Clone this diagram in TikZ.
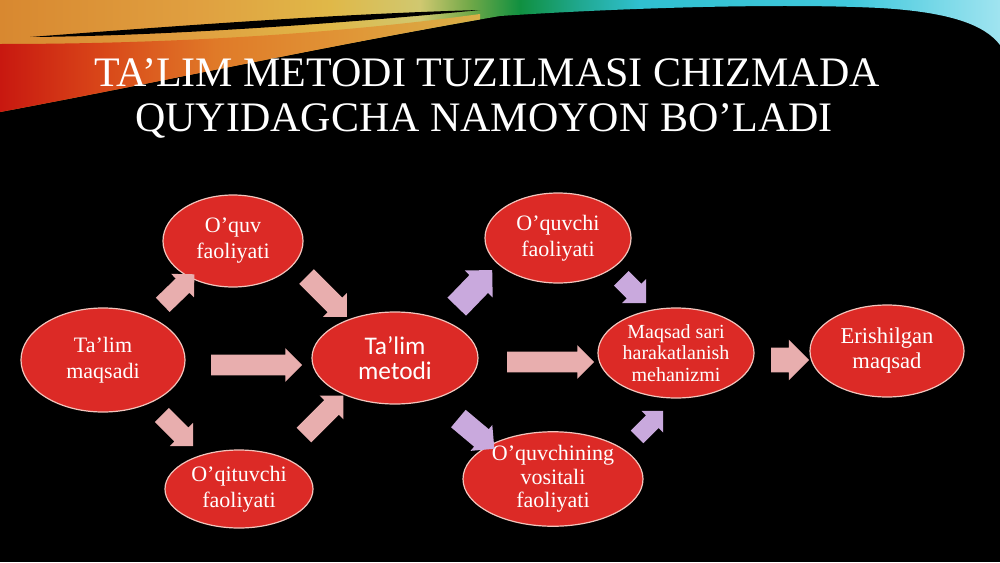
\documentclass[tikz,border=0pt]{standalone}
\usepackage{fontspec}
\setmainfont{Liberation Serif}
\newfontfamily\calib{Carlito}
\usetikzlibrary{shapes.geometric,shapes.arrows}
\definecolor{elred}{HTML}{DC2A26}
\definecolor{elborder}{HTML}{F2C4BC}
\definecolor{pinkarr}{HTML}{E8AEAE}
\definecolor{lavarr}{HTML}{C9A9DD}
\definecolor{swA}{HTML}{D88830}
\definecolor{swB}{HTML}{E0A040}
\definecolor{swC}{HTML}{E0B848}
\definecolor{swD}{HTML}{D0C870}
\definecolor{swE}{HTML}{70A848}
\definecolor{swF}{HTML}{109040}
\definecolor{swG}{HTML}{20A890}
\definecolor{swH}{HTML}{30C0D0}
\definecolor{swI}{HTML}{40C8DC}
\definecolor{swJ}{HTML}{A0E4F0}
\definecolor{loA}{HTML}{C81810}
\definecolor{loB}{HTML}{D84418}
\definecolor{loC}{HTML}{E07A28}
\definecolor{loD}{HTML}{E09838}
\definecolor{loE}{HTML}{D8B048}
\pgfdeclarehorizontalshading{swoosh}{100bp}{color(0bp)=(swA); color(25bp)=(swA); color(35bp)=(swB); color(41.5bp)=(swC); color(46bp)=(swD); color(48.5bp)=(swE); color(51bp)=(swF); color(54bp)=(swG); color(57bp)=(swH); color(67.5bp)=(swI); color(75bp)=(swJ); color(100bp)=(swJ)}
\pgfdeclarehorizontalshading{lowband}{100bp}{color(0bp)=(loA); color(25bp)=(loA); color(35bp)=(loB); color(47.5bp)=(loC); color(62.5bp)=(loD); color(75bp)=(loE); color(100bp)=(loE)}
\tikzset{
  ell/.style={ellipse, draw=elborder, line width=0.6pt, fill=elred, text=white,
    align=center, inner sep=0pt, font=\fontsize{11}{13}\selectfont},
  blockarr/.style={single arrow, draw=none, inner xsep=0pt, outer sep=0pt},
  ttl/.style={text=white, anchor=base, inner sep=0pt, font=\fontsize{21}{22}\selectfont}
}
\newcommand\blockarrow[7]{\node[blockarr, fill=#7, rotate=#3,
  minimum height={#4*0.5pt}, minimum width={#5*0.5pt}, inner ysep={#6*0.25pt},
  single arrow head extend={(#5-#6)*0.25pt}] (#1) at (#2) {};}
\begin{document}
\begin{tikzpicture}[x=0.5pt, y=-0.5pt]
\useasboundingbox (0,0) rectangle (1000,562);
\fill[black] (0,0) rectangle (1000,562);
% top swoosh
\path[shading=swoosh] (0,0) -- (1000,0) -- (1000,45)
  .. controls (985,25) and (950,12) .. (880,8)
  .. controls (780,3) and (620,8) .. (500,16)
  .. controls (330,45) and (160,82) .. (0,112) -- cycle;
\begin{scope}
\clip (0,0) -- (1000,0) -- (1000,45)
  .. controls (985,25) and (950,12) .. (880,8)
  .. controls (780,3) and (620,8) .. (500,16)
  .. controls (330,45) and (160,82) .. (0,112) -- cycle;
\path[shading=lowband]
  (0,44) .. controls (150,44) and (320,36) .. (480,14) -- (480,140) -- (0,140) -- cycle;
\end{scope}
\fill[black] (30,37) .. controls (150,28) and (330,14) .. (480,10)
  .. controls (360,22) and (170,36) .. (30,37) -- cycle;
% title
\node[ttl] (t1) at (487,86) {TA’LIM METODI TUZILMASI CHIZMADA};
\node[ttl] (t2) at (484,131) {QUYIDAGCHA NAMOYON BO’LADI};
% ellipses
\node[ell, minimum width=82pt, minimum height=52pt] (maqsadi) at (103,360) {Ta’lim\\maqsadi};
\node[ell, minimum width=70pt, minimum height=46pt] (oquv) at (233,241) {O’quv\\faoliyati};
\node[ell, minimum width=74pt, minimum height=39pt] (oqituvchi) at (239,489) {O’qituvchi\\faoliyati};
\node[ell, minimum width=83pt, minimum height=46pt, font=\calib\fontsize{12.7}{12.5}\selectfont] (metodi) at (395,358) {Ta’lim\\metodi};
\node[ell, minimum width=73pt, minimum height=45pt] (oquvchi) at (558,238) {O’quvchi\\faoliyati};
\node[ell, minimum width=90pt, minimum height=42pt, font=\fontsize{11}{11.7}\selectfont] (vositali) at (553,479) {O’quvchining\\vositali\\faoliyati};
\node[ell, minimum width=78pt, minimum height=45pt, font=\fontsize{10}{10.9}\selectfont] (mexanizm) at (676,353) {Maqsad sari\\harakatlanish\\mehanizmi};
\node[ell, minimum width=77pt, minimum height=46pt, font=\fontsize{11.3}{12.5}\selectfont] (erish) at (887,351) {Erishilgan\\maqsad};
% block arrows
\blockarrow{a1}{175,293}{44}{44}{32}{19}{pinkarr}
\blockarrow{a2}{174,427}{-45}{44}{32}{19}{pinkarr}
\blockarrow{a3}{323,293}{-45}{57}{33}{20}{pinkarr}
\blockarrow{a4}{320,419}{45}{56}{33}{20}{pinkarr}
\blockarrow{a5}{251.5,365}{0}{91}{33}{20}{pinkarr}
\blockarrow{a6}{470,293}{46}{51}{38}{25}{lavarr}
\blockarrow{a7}{472,430}{-40}{47}{33}{22}{lavarr}
\blockarrow{a8}{630,287}{-45}{35}{33}{20}{lavarr}
\blockarrow{a9}{647,427}{45}{37}{30}{17}{lavarr}
\blockarrow{a11}{545.5,362}{0}{87}{33}{20}{pinkarr}
\blockarrow{a10}{784,360}{0}{38}{40}{24}{pinkarr}
\end{tikzpicture}
\end{document}
